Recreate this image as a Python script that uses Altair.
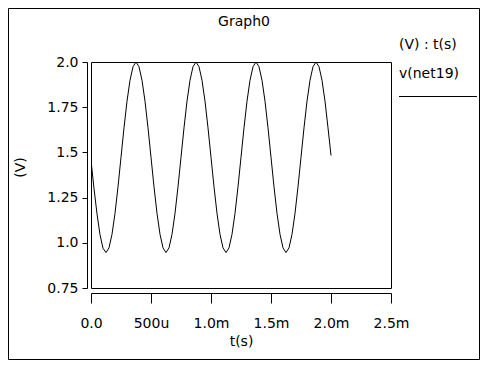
import altair as alt
import pandas as pd

# sample times (microseconds) and the read-off voltage of v(net19)
t_us = list(range(0, 2001, 25))
v_net19 = [
    1.456, 1.300, 1.160, 1.045, 0.970, 0.946, 0.972, 1.047, 1.163, 1.310,
    1.473, 1.636, 1.783, 1.899, 1.974, 2.000, 1.974, 1.899, 1.783, 1.636,
    1.473, 1.310, 1.163, 1.047, 0.972, 0.946, 0.972, 1.047, 1.163, 1.310,
    1.473, 1.636, 1.783, 1.899, 1.974, 2.000, 1.974, 1.899, 1.783, 1.636,
    1.473, 1.310, 1.163, 1.047, 0.972, 0.946, 0.972, 1.047, 1.163, 1.310,
    1.473, 1.636, 1.783, 1.899, 1.974, 2.000, 1.974, 1.899, 1.783, 1.636,
    1.473, 1.310, 1.163, 1.047, 0.972, 0.946, 0.972, 1.047, 1.163, 1.310,
    1.473, 1.636, 1.783, 1.899, 1.974, 2.000, 1.974, 1.899, 1.783, 1.636,
    1.483,
]

x_ticks = [0, 500, 1000, 1500, 2000, 2500]
x_tick_labels = ["0.0", "500u", "1.0m", "1.5m", "2.0m", "2.5m"]
y_ticks = [0.75, 1.0, 1.25, 1.5, 1.75, 2.0]
y_tick_labels = ["0.75", "1.0", "1.25", "1.5", "1.75", "2.0"]

title_text = "Graph0"
legend_header = "(V) : t(s)"
legend_label = "v(net19)"

FONT = "DejaVu Sans"

df = pd.DataFrame({"t": t_us, "v": v_net19})


def label_expr(ticks, labels):
    parts = [f"datum.value == {t} ? '{l}'" for t, l in zip(ticks, labels)]
    return " : ".join(parts) + " : ''"


x_axis = alt.Axis(
    values=x_ticks, labelExpr=label_expr(x_ticks, x_tick_labels),
    offset=5, tickSize=10, tickColor="black", domainColor="black",
    labelFont=FONT, labelFontSize=14, labelColor="black", labelPadding=13,
    title="t(s)", titleFont=FONT, titleFontSize=14, titleFontWeight="normal",
    titleColor="black", titlePadding=4, grid=False, labelFlush=False,
)
y_axis = alt.Axis(
    values=y_ticks, labelExpr=label_expr(y_ticks, y_tick_labels),
    offset=4, tickSize=5, tickColor="black", domainColor="black",
    labelFont=FONT, labelFontSize=14, labelColor="black", labelPadding=4,
    title="(V)", titleFont=FONT, titleFontSize=14, titleFontWeight="normal",
    titleColor="black", titlePadding=19, titleY=105, grid=False,
    labelFlush=False,
)

line = alt.Chart(df).mark_line(color="black", strokeWidth=1, clip=True).encode(
    x=alt.X("t:Q", scale=alt.Scale(domain=[0, 2500], nice=False, zero=False), axis=x_axis),
    y=alt.Y("v:Q", scale=alt.Scale(domain=[0.75, 2.0], nice=False, zero=False), axis=y_axis),
)

one = pd.DataFrame({"a": [0]})

border = alt.Chart(one).mark_rect(fill="transparent", stroke="black", strokeWidth=1).encode(
    x=alt.value(-82.5), x2=alt.value(388.5), y=alt.value(-53.5), y2=alt.value(297.5)
)

title = alt.Chart(one).mark_text(font=FONT, fontSize=14, color="black", baseline="middle").encode(
    x=alt.value(153), y=alt.value(-40), text=alt.value(title_text)
)
leg1 = alt.Chart(one).mark_text(font=FONT, fontSize=14, color="black", baseline="middle", align="left").encode(
    x=alt.value(308), y=alt.value(-17), text=alt.value(legend_header)
)
leg2 = alt.Chart(one).mark_text(font=FONT, fontSize=14, color="black", baseline="middle", align="left").encode(
    x=alt.value(308), y=alt.value(12), text=alt.value(legend_label)
)
leg_rule = alt.Chart(one).mark_rule(color="black", strokeWidth=1).encode(
    x=alt.value(308), x2=alt.value(386), y=alt.value(34.5)
)

chart = alt.layer(border, line, title, leg1, leg2, leg_rule).properties(
    width=300, height=226,
    autosize=alt.AutoSizeParams(type="none"),
    padding={"left": 83, "top": 54, "right": 89, "bottom": 72},
    background="white",
).configure_view(stroke="black", strokeWidth=1)

chart.save("out.html", embed_options={"renderer": "svg", "actions": False})
